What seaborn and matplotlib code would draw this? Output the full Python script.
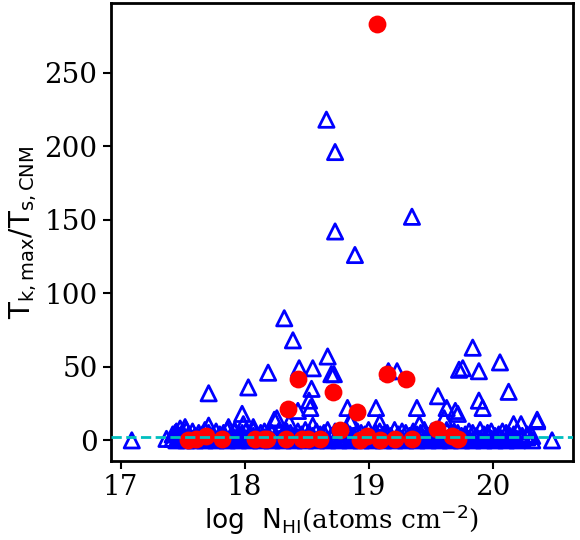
import matplotlib
matplotlib.use("Agg")
import matplotlib.pyplot as plt
import seaborn as sns
import pandas as pd

# Triângulos: pontos de destaque (log N_HI, razão de temperaturas)
tri_x = [17.09, 17.37, 17.44, 17.48, 17.52, 17.71, 17.71, 17.87, 17.92, 17.98, 17.99,
         18.03, 18.07, 18.19, 18.24, 18.26, 18.32, 18.36, 18.39, 18.43, 18.44, 18.52,
         18.53, 18.54, 18.55, 18.55, 18.66, 18.67, 18.70, 18.72, 18.73, 18.73, 18.83,
         18.85, 18.86, 18.89, 19.06, 19.09, 19.16, 19.23, 19.35, 19.39, 19.41, 19.56,
         19.61, 19.63, 19.70, 19.72, 19.73, 19.76, 19.84, 19.89, 19.89, 19.92, 20.06,
         20.13, 20.17, 20.23, 20.36, 20.36, 20.48]
tri_y = [0, 1, 5, 8, 9, 32, 10, 9, 7, 18, 11,
         36, 9, 46, 14, 15, 83, 12, 68, 20, 49, 27,
         22, 35, 49, 10, 218, 57, 45, 45, 196, 142, 22,
         13, 13, 126, 22, 12, 47, 47, 152, 22, 11, 30,
         15, 22, 20, 18, 48, 49, 63, 47, 27, 22, 53,
         33, 11, 11, 14, 13, 0]

# Triângulos: faixa densa perto de zero
base_x = [17.42, 17.45, 17.47, 17.50, 17.53, 17.55, 17.58, 17.60, 17.63, 17.66, 17.68,
          17.71, 17.74, 17.77, 17.80, 17.83, 17.86, 17.89, 17.92, 17.95, 17.98, 18.01,
          18.04, 18.07, 18.10, 18.13, 18.16, 18.19, 18.22, 18.25, 18.28, 18.31, 18.34,
          18.37, 18.40, 18.43, 18.46, 18.49, 18.52, 18.55, 18.58, 18.61, 18.64, 18.67,
          18.70, 18.73, 18.76, 18.79, 18.82, 18.85, 18.88, 18.91, 18.94, 18.97, 19.00,
          19.03, 19.06, 19.09, 19.12, 19.15, 19.18, 19.21, 19.24, 19.27, 19.30, 19.33,
          19.36, 19.39, 19.42, 19.45, 19.48, 19.51, 19.54, 19.57, 19.60, 19.63, 19.66,
          19.69, 19.72, 19.75, 19.78, 19.81, 19.84, 19.87, 19.90, 19.93, 19.96, 19.99,
          20.02, 20.05, 20.08, 20.11, 20.14, 20.17, 20.20, 20.24, 20.28, 20.32]
base_y1 = [1, 0, 2, 1, 0, 3, 1, 0, 2, 1, 0,
           2, 1, 0, 3, 1, 0, 2, 1, 0, 2, 1,
           0, 3, 1, 0, 2, 1, 0, 2, 1, 0, 3,
           1, 0, 2, 1, 0, 2, 1, 0, 3, 1, 0,
           2, 1, 0, 2, 1, 0, 3, 1, 0, 2, 1,
           0, 2, 1, 0, 3, 1, 0, 2, 1, 0, 2,
           1, 0, 3, 1, 0, 2, 1, 0, 2, 1, 0,
           3, 1, 0, 2, 1, 0, 2, 1, 0, 3, 1,
           0, 2, 1, 0, 2, 1, 0, 1, 2, 0]
base_y2 = [4, 6, 3, 5, 7, 4, 6, 3, 5, 4, 7,
           5, 3, 6, 4, 5, 7, 3, 6, 4, 5, 6,
           4, 7, 3, 5, 6, 4, 5, 3, 7, 4, 6,
           5, 3, 6, 4, 7, 5, 3, 6, 4, 5, 7,
           3, 6, 4, 5, 7, 4, 3, 6, 5, 4, 7,
           3, 5, 6, 4, 5, 3, 7, 4, 6, 5, 3,
           6, 4, 5, 7, 3, 6, 4, 5, 3, 7, 4,
           6, 5, 3, 4, 6, 5, 3, 7, 4, 5, 6,
           3, 4, 6, 5, 3, 4, 6, 3, 4, 3]

# Círculos vermelhos
circ_x = [17.54, 17.61, 17.69, 17.82, 18.08, 18.16, 18.18, 18.33, 18.46, 18.51, 18.61,
          18.77, 18.93, 18.99, 19.09, 19.21, 19.35, 19.55, 19.67, 19.72,
          18.43, 18.71, 18.35, 18.91, 19.15, 19.30, 19.07]
circ_y = [0, 1, 3, 1, 1, 1, 1, 1, 1, 1, 1,
          7, 0, 3, 0, 1, 1, 8, 3, 1,
          42, 33, 21, 19, 45, 42, 283]

linha_y = 2

df_tri = pd.DataFrame({"x": tri_x + base_x + base_x,
                       "y": tri_y + base_y1 + base_y2})
df_circ = pd.DataFrame({"x": circ_x, "y": circ_y})

plt.rcParams["font.family"] = "serif"
plt.rcParams["mathtext.fontset"] = "dejavusans"

fig = plt.figure(figsize=(5.8, 5.4), dpi=100)
ax = fig.add_axes([0.191, 0.146, 0.797, 0.848])

sns.scatterplot(data=df_tri, x="x", y="y", marker="^", s=121,
                facecolor="none", edgecolor="blue", linewidth=2, ax=ax, zorder=2)
sns.scatterplot(data=df_circ, x="x", y="y", marker="o", s=165,
                color="red", linewidth=0, ax=ax, zorder=3)
ax.axhline(linha_y, color="c", linestyle="--", linewidth=2, zorder=4)

ax.set_xticks([17, 18, 19, 20])
ax.set_yticks([0, 50, 100, 150, 200, 250])
ax.tick_params(labelsize=20, width=1.5, length=6)
for s in ax.spines.values():
    s.set_linewidth(2)
ax.set_xlabel(r"$\rm log\ \ N_{HI}$(atoms cm$^{-2}$)", fontsize=19, labelpad=1)
ax.set_ylabel(r"$\rm T_{k,max}/T_{s,CNM}$", fontsize=20)

fig.savefig("out.png", dpi=100)
